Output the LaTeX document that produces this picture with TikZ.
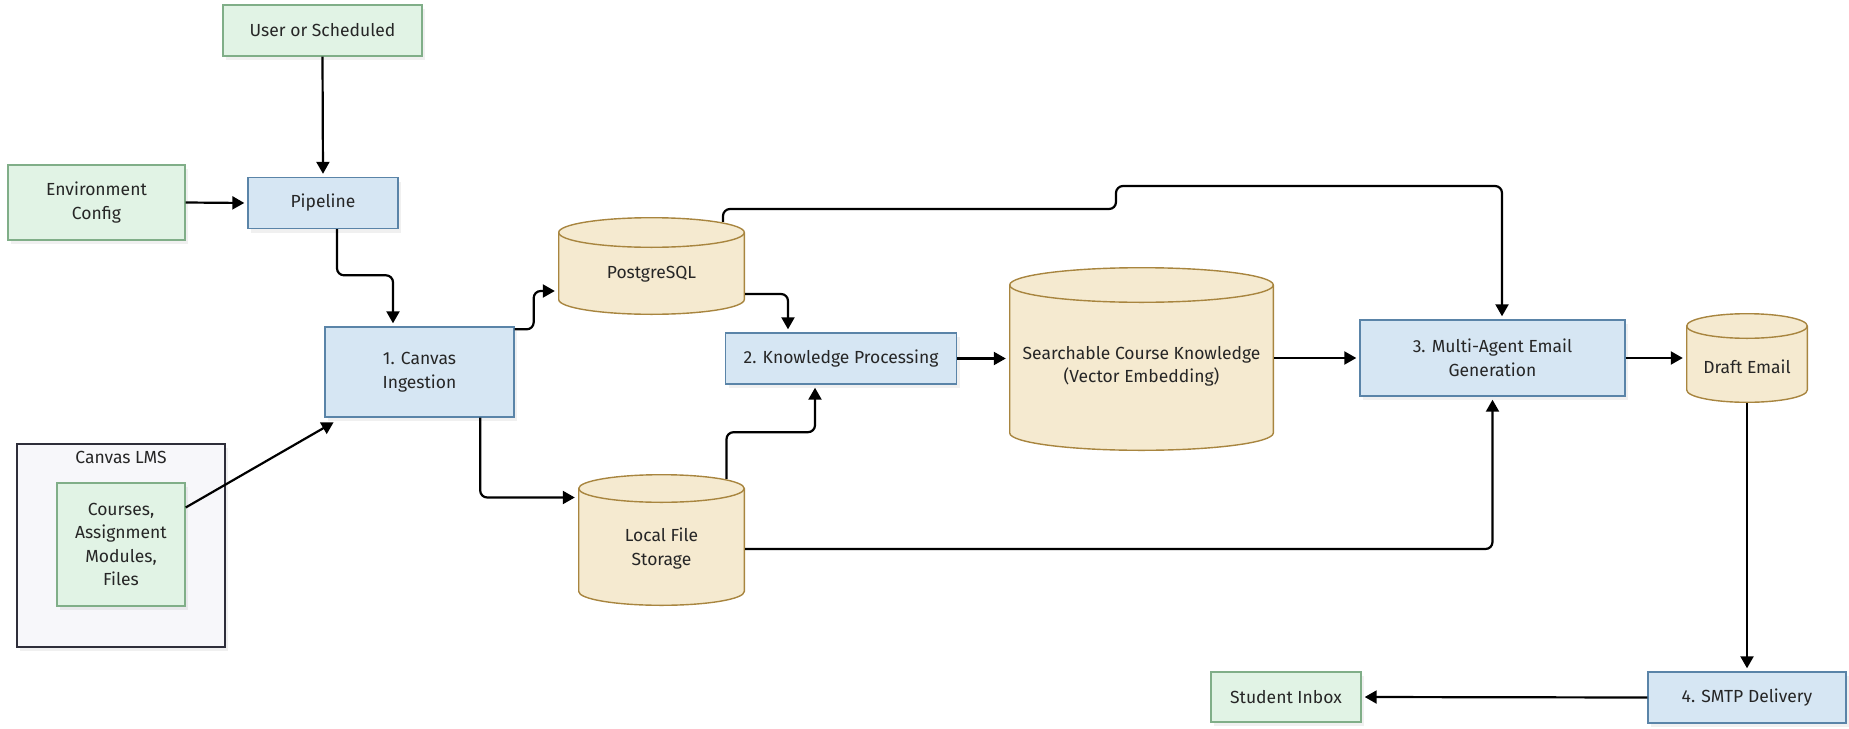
\documentclass[tikz,border=0pt]{standalone}
\usepackage{fontspec}
\setmainfont{Fira Sans}
\usetikzlibrary{arrows.meta,shadows}

\definecolor{procfill}{HTML}{D6E6F3}
\definecolor{procline}{HTML}{5A84A8}
\definecolor{srcfill}{HTML}{E1F3E5}
\definecolor{srcline}{HTML}{80AE88}
\definecolor{storefill}{HTML}{F5EAD0}
\definecolor{storeline}{HTML}{A8853F}
\definecolor{groupfill}{HTML}{F7F7FA}
\definecolor{groupline}{HTML}{2E2E3A}
\definecolor{ink}{HTML}{262626}

\tikzset{
  soft/.style={drop shadow={shadow xshift=3pt,shadow yshift=-4pt,opacity=0.12}},
  box/.style={rectangle,draw,line width=1.4pt,align=center,inner sep=0pt,soft},
  src/.style={box,fill=srcfill,draw=srcline},
  proc/.style={box,fill=procfill,draw=procline},
  % #1 = half width, #2 = half height of the lid
  store/.style 2 args={rectangle,inner sep=0pt,
    path picture={
      \draw[storeline,fill=storefill,line width=1.4pt]
        ([shift={(0.7pt,-#2pt)}]path picture bounding box.north west)
        -- ([shift={(0.7pt,#2pt)}]path picture bounding box.south west)
        arc[start angle=180,end angle=360,x radius={#1pt-0.7pt},y radius={#2pt-0.7pt}]
        -- ([shift={(-0.7pt,-#2pt)}]path picture bounding box.north east)
        arc[start angle=0,end angle=180,x radius={#1pt-0.7pt},y radius={#2pt-0.7pt}]
        -- cycle;
      \draw[storeline,line width=1.4pt]
        ([shift={(0.7pt,-#2pt)}]path picture bounding box.north west)
        arc[start angle=180,end angle=360,x radius={#1pt-0.7pt},y radius={#2pt-0.7pt}];
    }},
  group/.style={rectangle,draw=groupline,fill=groupfill,line width=2.4pt,soft},
  flow/.style={-{Triangle[length=12pt,width=13pt]},line width=2.2pt,
               rounded corners=7pt,shorten >=3pt}
}

\begin{document}
\begin{tikzpicture}
  [x=1pt,y=-1pt,text=ink,font=\fontsize{17.5}{23.5}\selectfont]

  \useasboundingbox (0,0) rectangle (1849,728);

  % Canvas LMS and what comes out of it
  \node[group,minimum width=208pt,minimum height=203pt] (lms) at (121,545.5) {};
  \node (lmstitle) at (121,457) {Canvas LMS};
  \node[src,minimum width=128pt,minimum height=123pt] (courses) at (121,544.5)
        {Courses,\\Assignment\\Modules,\\Files};

  % triggers and config
  \node[src,minimum width=199pt,minimum height=51pt] (user) at (322.5,30.5) {User or Scheduled};
  \node[src,minimum width=177pt,minimum height=75pt] (env) at (96.5,202.5) {Environment\\Config};
  \node[proc,minimum width=150pt,minimum height=51pt] (pipe) at (323,203) {Pipeline};

  % stages
  \node[proc,minimum width=189pt,minimum height=90pt] (ingest) at (419.5,372) {1. Canvas\\Ingestion};
  \node[proc,minimum width=231pt,minimum height=51pt] (kp) at (841,358.5) {2. Knowledge Processing};
  \node[proc,minimum width=265pt,minimum height=76pt] (agent) at (1492.5,358) {3. Multi-Agent Email\\Generation};
  \node[proc,minimum width=198pt,minimum height=51pt] (smtp) at (1747,697.5) {4. SMTP Delivery};
  \node[src,minimum width=150pt,minimum height=50pt] (inbox) at (1286,697) {Student Inbox};

  % stores, text set a bit below the lid
  \node[store={93.5}{15.5},minimum width=187pt,minimum height=98pt] (pg) at (651.5,266) {};
  \node (pgtext) at (651.5,274.5) {PostgreSQL};
  \node[store={83.5}{14.5},minimum width=167pt,minimum height=132pt] (local) at (661.5,540) {};
  \node[align=center] (localtext) at (661.5,548.5) {Local File\\Storage};
  \node[store={132.5}{18},minimum width=265pt,minimum height=184pt] (search) at (1141.5,359) {};
  \node[align=center] (searchtext) at (1141.5,366.5) {Searchable Course Knowledge\\(Vector Embedding)};
  \node[store={61}{13},minimum width=122pt,minimum height=90pt] (draft) at (1747,358) {};
  \node (drafttext) at (1747,366.5) {Draft Email};

  % connectors
  \draw[flow] (user.south) -- (pipe.north);
  \draw[flow] (env.east) -- (pipe.west);
  \draw[flow] ([xshift=14pt]pipe.south) |- ([xshift=-26.5pt,yshift=51pt]ingest.north)
              -- ([xshift=-26.5pt]ingest.north);
  \draw[flow] ([yshift=37pt]courses.east) -- ([xshift=12pt,yshift=-3pt]ingest.south west);
  \draw[flow] ([yshift=-3pt]ingest.north east) -- ++(19,0) |- ([yshift=-25pt]pg.west);
  \draw[flow] ([xshift=-34.5pt]ingest.south east) |- ([yshift=42.5pt]local.west);
  \draw[flow] ([yshift=-28pt]pg.east) -| ([xshift=-53pt]kp.north);
  \draw[flow] ([xshift=65pt,yshift=-5pt]local.north)
              |- ([xshift=-26pt,yshift=-47.5pt]kp.south) -- ([xshift=-26pt]kp.south);
  \draw[flow] (kp.east) -- (kp.east -| search.west);
  \draw[flow] ([yshift=-9pt]local.east) -| (agent.south);
  \draw[flow] ([xshift=71.5pt,yshift=-5pt]pg.north) |- (1116,209) |- (1502,186)
              -- ([xshift=9.5pt]agent.north);
  \draw[flow] (agent.west -| search.east) -- (agent.west);
  \draw[flow] (agent.east) -- (agent.east -| draft.west);
  \draw[flow] (draft.south) -- (smtp.north);
  \draw[flow] (smtp.west) -- (inbox.east);
\end{tikzpicture}
\end{document}
